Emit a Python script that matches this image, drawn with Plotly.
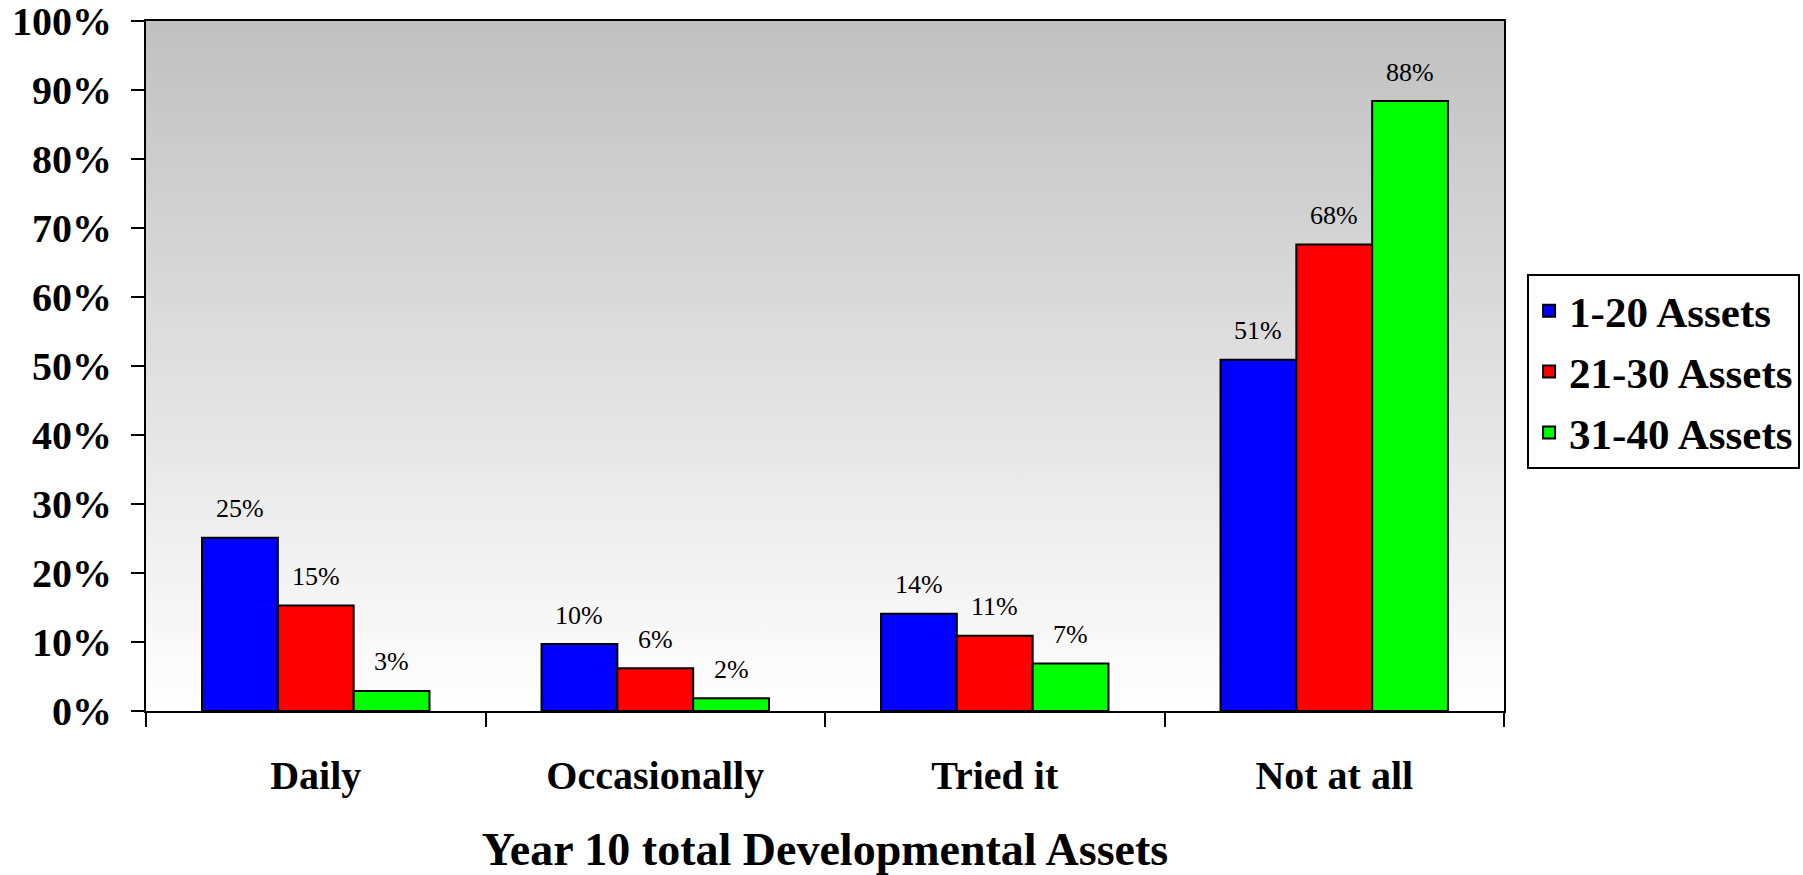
import plotly.graph_objects as go

categories = ["Daily", "Occasionally", "Tried it", "Not at all"]
series_names = ["1-20 Assets", "21-30 Assets", "31-40 Assets"]
values_1_20 = [25.1, 9.7, 14.1, 50.9]
values_21_30 = [15.3, 6.2, 10.9, 67.6]
values_31_40 = [2.9, 1.85, 6.9, 88.4]
series_values = [values_1_20, values_21_30, values_31_40]
series_colors = ["#0000FF", "#FF0000", "#00FF00"]
y_ticks = [0, 10, 20, 30, 40, 50, 60, 70, 80, 90, 100]
x_title = "Year 10 total Developmental Assets"

SERIF = "Times New Roman, Liberation Serif, serif"
BARGAP = 0.33

fig = go.Figure()

# gradient background of plotting area (hidden base axis)
fig.add_trace(go.Scatter(
    x=[0, 1, 1, 0, 0], y=[0, 0, 100, 100, 0],
    xaxis="x", yaxis="y", mode="none", fill="toself",
    fillgradient=dict(type="vertical", colorscale=[[0, "#ffffff"], [1, "#c0c0c0"]]),
    hoverinfo="skip", showlegend=False,
))

for name, vals, color in zip(series_names, series_values, series_colors):
    fig.add_trace(go.Bar(
        x=categories, y=vals, name=name, xaxis="x2", yaxis="y",
        legendgroup=name,
        marker=dict(color=color, line=dict(color="black", width=2)),
    ))

barw = (1 - BARGAP) / len(series_names)
annotations = []
for j, vals in enumerate(series_values):
    for i, v in enumerate(vals):
        annotations.append(dict(
            x=i + (j - (len(series_names) - 1) / 2) * barw, y=v,
            xref="x2", yref="y", text=f"{v:.0f}%", showarrow=False,
            yanchor="middle", yshift=29,
            font=dict(family=SERIF, size=26, color="black"),
        ))

fig.update_layout(
    width=1803, height=875,
    margin=dict(l=146, r=299, t=21, b=164, autoexpand=False),
    paper_bgcolor="white", plot_bgcolor="rgba(0,0,0,0)",
    barmode="group", bargap=BARGAP, bargroupgap=0,
    xaxis=dict(range=[0, 1], visible=False, fixedrange=True),
    xaxis2=dict(
        type="category", overlaying="x", anchor="y", automargin=False,
        showline=True, linecolor="black", linewidth=2, mirror=True,
        ticks="outside", tickson="boundaries", ticklen=14, tickwidth=2, tickcolor="black",
        tickfont=dict(family=SERIF, size=40, color="black", weight="bold"),
        ticklabelstandoff=28,
        title=dict(text=x_title, font=dict(family=SERIF, size=46, color="black", weight="bold"), standoff=41),
        showgrid=False, zeroline=False,
    ),
    yaxis=dict(
        range=[0, 100], tickvals=y_ticks, ticktext=[f"{t}%" for t in y_ticks],
        automargin=False, ticklabeloverflow="allow",
        showline=True, linecolor="black", linewidth=2, mirror=True,
        ticks="outside", ticklen=13, tickwidth=2, tickcolor="black",
        tickfont=dict(family=SERIF, size=40, color="black", weight="bold"),
        ticklabelstandoff=11,
        showgrid=False, zeroline=False,
    ),
    legend=dict(
        x=1.017, xanchor="left", y=0.633, yanchor="top",
        traceorder="grouped", tracegroupgap=2,
        font=dict(family=SERIF, size=43, color="black", weight="bold"),
        bordercolor="black", borderwidth=2, bgcolor="white",
    ),
    annotations=annotations,
    showlegend=True,
)

fig.write_html(
    "out.html",
    config={"displayModeBar": False},
    post_script="document.body.style.margin='0';",
)
